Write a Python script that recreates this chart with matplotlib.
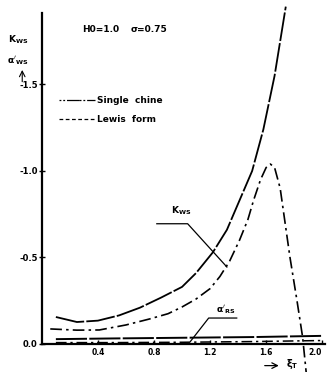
import matplotlib
matplotlib.use('Agg')
import matplotlib.pyplot as plt

# ── data (K and alpha are negative, plotted upward) ──
x_single = [0.1, 0.25, 0.4, 0.55, 0.7, 0.85, 1.0, 1.1, 1.22, 1.32, 1.41, 1.5, 1.58, 1.66, 1.74]
k_single = [0.156, 0.127, 0.135, 0.165, 0.21, 0.268, 0.33, 0.41, 0.53, 0.66, 0.83, 1.0, 1.24, 1.55, 1.95]

x_lewis = [0.06, 0.25, 0.41, 0.6, 0.77, 0.9, 1.0, 1.1, 1.2, 1.27, 1.34, 1.41, 1.47,
           1.51, 1.56, 1.6, 1.63, 1.66, 1.7, 1.77, 1.82, 1.86, 1.89]
k_lewis = [0.087, 0.08, 0.081, 0.11, 0.145, 0.175, 0.214, 0.26, 0.32, 0.39, 0.48, 0.6, 0.72,
           0.83, 0.95, 1.02, 1.04, 1.02, 0.9, 0.5, 0.25, 0.04, -0.2]

x_alpha = [0.1, 0.5, 1.0, 1.5, 2.0]
a_single = [0.028, 0.032, 0.036, 0.04, 0.047]
a_lewis = [0.008, 0.008, 0.01, 0.014, 0.02]

xticks = [0.4, 0.8, 1.2, 1.6, 2.0]
xtick_labels = ['0.4', '0.8', '1.2', '1.6', '2.0']
yticks = [0.0, -0.5, -1.0, -1.5]
ytick_labels = ['0.0', '-0.5', '-1.0', '-1.5']

SINGLE = (0, (16, 1.2))
LEWIS = (0, (7, 2.5, 1.5, 2.5))

fig = plt.figure(figsize=(3.27, 3.72), dpi=100)
ax = fig.add_axes([0.128, 0.0753, 0.866, 0.8897])

neg = lambda v: [-t for t in v]
ax.plot(x_single, neg(k_single), color='black', lw=1.3, ls=SINGLE, clip_on=False)
ax.plot(x_lewis, neg(k_lewis), color='black', lw=1.2, ls=LEWIS, clip_on=False)
ax.plot(x_alpha, neg(a_single), color='black', lw=1.4, ls=SINGLE)
ax.plot(x_alpha, neg(a_lewis), color='black', lw=1.1, ls=LEWIS)

ax.set_xlim(0, 2.02)
ax.set_ylim(0, -1.913)

for s in ['top', 'right']:
    ax.spines[s].set_visible(False)
for s in ['left', 'bottom']:
    ax.spines[s].set_linewidth(1.6)

ax.set_xticks(xticks)
ax.set_xticklabels(xtick_labels, fontsize=5.5, fontweight='bold')
ax.get_xticklabels()[-1].set_horizontalalignment('right')
ax.set_yticks(yticks)
ax.set_yticklabels(ytick_labels, fontsize=6, fontweight='bold')
ax.tick_params(axis='x', direction='in', length=3, width=1, pad=3)
ax.tick_params(axis='y', direction='inout', length=4, width=1, pad=1)

# header text
ax.text(0.29, -1.82, 'H0=1.0', fontsize=6.5, fontweight='bold', ha='left', va='center')
ax.text(0.63, -1.82, 'σ=0.75', fontsize=6.5, fontweight='bold', ha='left', va='center')

# axis symbols
ax.text(-0.17, -1.76, r'$\mathbf{K_{WS}}$', fontsize=6.5, ha='center', va='center', clip_on=False)
ax.text(-0.17, -1.64, r"$\mathbf{\alpha'_{WS}}$", fontsize=6.5, ha='center', va='center', clip_on=False)
ax.annotate('', xy=(-0.14, -1.6), xytext=(-0.14, -1.5), xycoords='data',
            arrowprops=dict(arrowstyle='->', lw=0.8, color='black'), annotation_clip=False)
ax.annotate('', xy=(1.71, 0.125), xytext=(1.57, 0.125),
            arrowprops=dict(arrowstyle='->', lw=0.9, color='black'), annotation_clip=False)
ax.text(1.74, 0.115, r'$\mathbf{\xi_T}$', fontsize=7, ha='left', va='center', clip_on=False)

# legend drawn by hand
ax.plot([0.12, 0.38], [-1.41, -1.41], color='black', lw=0.9, ls=(0, (1.5, 1.5, 1.5, 1.5, 10, 0.1)))
ax.text(0.39, -1.41, 'Single  chine', fontsize=6.5, fontweight='bold', ha='left', va='center')
ax.plot([0.12, 0.38], [-1.30, -1.30], color='black', lw=0.9, ls=(0, (3, 2)))
ax.text(0.39, -1.30, 'Lewis  form', fontsize=6.5, fontweight='bold', ha='left', va='center')

# leaders
ax.text(0.92, -0.735, r'$\mathbf{K_{WS}}$', fontsize=6.5, ha='left', va='bottom')
ax.plot([0.82, 1.04, 1.32], [-0.695, -0.695, -0.445], color='black', lw=0.9)
ax.text(1.24, -0.16, r"$\mathbf{\alpha'_{RS}}$", fontsize=6.5, ha='left', va='bottom')
ax.plot([1.06, 1.19, 1.39], [-0.015, -0.15, -0.15], color='black', lw=0.9)

fig.savefig('out.png', dpi=100)
